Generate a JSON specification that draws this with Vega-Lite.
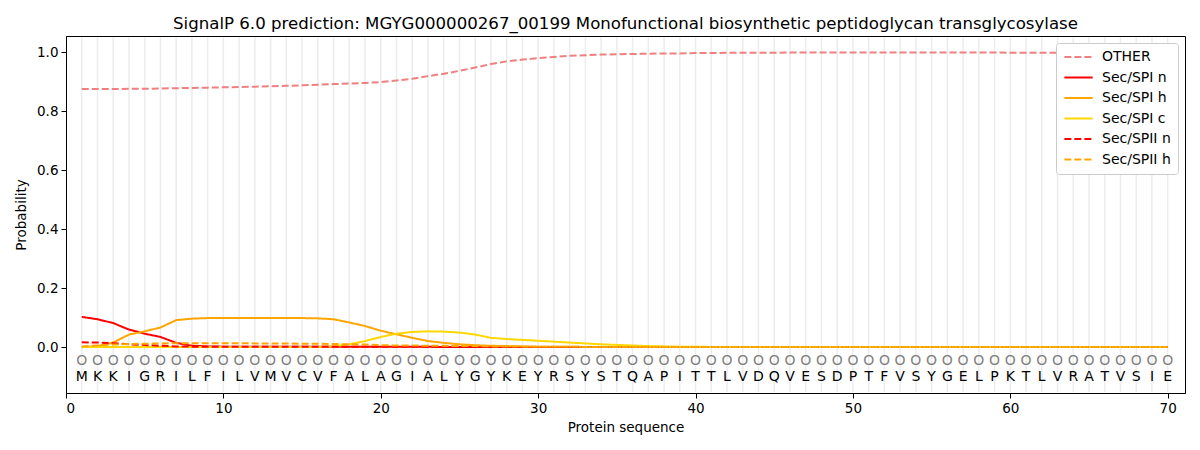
{
  "$schema": "https://vega.github.io/schema/vega-lite/v6.json",
  "width": 1119,
  "height": 357,
  "autosize": {"type": "none"},
  "padding": {"left": 66, "top": 36, "right": 15, "bottom": 57},
  "title": {"text": "SignalP 6.0 prediction: MGYG000000267_00199 Monofunctional biosynthetic peptidoglycan transglycosylase", "fontSize": 16.6, "fontWeight": "normal", "font": "DejaVu Sans", "anchor": "middle", "offset": 3, "color": "black"},
  "config": {
    "font": "DejaVu Sans",
    "view": {"stroke": "black", "strokeWidth": 1},
    "axis": {"domainColor": "black", "tickColor": "black", "labelColor": "black", "titleColor": "black", "labelFontSize": 13.5, "titleFontSize": 13.5, "titleFontWeight": "normal", "tickSize": 5, "grid": false, "labelFont": "DejaVu Sans", "titleFont": "DejaVu Sans"},
    "legend": {"labelFontSize": 14, "labelFont": "DejaVu Sans", "symbolStrokeWidth": 2, "symbolSize": 800, "symbolType": "stroke", "clipHeight": 14, "fillColor": "white", "strokeColor": "#cccccc", "cornerRadius": 3, "padding": 7, "rowPadding": 6.5, "offset": 7, "labelColor": "black", "labelOffset": 8}
  },
  "data": {"values": [
    {"pos":1,"aa":"M","OTHER":0.875,"Sec/SPI n":0.103,"Sec/SPI h":0.0,"Sec/SPI c":0.001,"Sec/SPII n":0.017,"Sec/SPII h":0.003},
    {"pos":2,"aa":"K","OTHER":0.875,"Sec/SPI n":0.095,"Sec/SPI h":0.004,"Sec/SPI c":0.001,"Sec/SPII n":0.016,"Sec/SPII h":0.006},
    {"pos":3,"aa":"K","OTHER":0.875,"Sec/SPI n":0.082,"Sec/SPI h":0.016,"Sec/SPI c":0.001,"Sec/SPII n":0.014,"Sec/SPII h":0.009},
    {"pos":4,"aa":"I","OTHER":0.876,"Sec/SPI n":0.060,"Sec/SPI h":0.043,"Sec/SPI c":0.001,"Sec/SPII n":0.010,"Sec/SPII h":0.011},
    {"pos":5,"aa":"G","OTHER":0.876,"Sec/SPI n":0.046,"Sec/SPI h":0.054,"Sec/SPI c":0.001,"Sec/SPII n":0.008,"Sec/SPII h":0.012},
    {"pos":6,"aa":"R","OTHER":0.877,"Sec/SPI n":0.035,"Sec/SPI h":0.067,"Sec/SPI c":0.001,"Sec/SPII n":0.005,"Sec/SPII h":0.013},
    {"pos":7,"aa":"I","OTHER":0.878,"Sec/SPI n":0.015,"Sec/SPI h":0.092,"Sec/SPI c":0.001,"Sec/SPII n":0.003,"Sec/SPII h":0.014},
    {"pos":8,"aa":"L","OTHER":0.879,"Sec/SPI n":0.005,"Sec/SPI h":0.097,"Sec/SPI c":0.001,"Sec/SPII n":0.002,"Sec/SPII h":0.014},
    {"pos":9,"aa":"F","OTHER":0.880,"Sec/SPI n":0.003,"Sec/SPI h":0.099,"Sec/SPI c":0.001,"Sec/SPII n":0.002,"Sec/SPII h":0.014},
    {"pos":10,"aa":"I","OTHER":0.881,"Sec/SPI n":0.002,"Sec/SPI h":0.099,"Sec/SPI c":0.001,"Sec/SPII n":0.002,"Sec/SPII h":0.014},
    {"pos":11,"aa":"L","OTHER":0.882,"Sec/SPI n":0.002,"Sec/SPI h":0.099,"Sec/SPI c":0.001,"Sec/SPII n":0.002,"Sec/SPII h":0.014},
    {"pos":12,"aa":"V","OTHER":0.883,"Sec/SPI n":0.002,"Sec/SPI h":0.099,"Sec/SPI c":0.001,"Sec/SPII n":0.002,"Sec/SPII h":0.013},
    {"pos":13,"aa":"M","OTHER":0.885,"Sec/SPI n":0.002,"Sec/SPI h":0.099,"Sec/SPI c":0.001,"Sec/SPII n":0.002,"Sec/SPII h":0.013},
    {"pos":14,"aa":"V","OTHER":0.886,"Sec/SPI n":0.002,"Sec/SPI h":0.099,"Sec/SPI c":0.001,"Sec/SPII n":0.002,"Sec/SPII h":0.013},
    {"pos":15,"aa":"C","OTHER":0.888,"Sec/SPI n":0.002,"Sec/SPI h":0.099,"Sec/SPI c":0.001,"Sec/SPII n":0.002,"Sec/SPII h":0.012},
    {"pos":16,"aa":"V","OTHER":0.890,"Sec/SPI n":0.002,"Sec/SPI h":0.098,"Sec/SPI c":0.001,"Sec/SPII n":0.002,"Sec/SPII h":0.012},
    {"pos":17,"aa":"F","OTHER":0.892,"Sec/SPI n":0.002,"Sec/SPI h":0.095,"Sec/SPI c":0.003,"Sec/SPII n":0.002,"Sec/SPII h":0.011},
    {"pos":18,"aa":"A","OTHER":0.894,"Sec/SPI n":0.002,"Sec/SPI h":0.084,"Sec/SPI c":0.010,"Sec/SPII n":0.002,"Sec/SPII h":0.010},
    {"pos":19,"aa":"L","OTHER":0.896,"Sec/SPI n":0.002,"Sec/SPI h":0.072,"Sec/SPI c":0.021,"Sec/SPII n":0.002,"Sec/SPII h":0.009},
    {"pos":20,"aa":"A","OTHER":0.899,"Sec/SPI n":0.002,"Sec/SPI h":0.056,"Sec/SPI c":0.035,"Sec/SPII n":0.002,"Sec/SPII h":0.007},
    {"pos":21,"aa":"G","OTHER":0.904,"Sec/SPI n":0.002,"Sec/SPI h":0.044,"Sec/SPI c":0.046,"Sec/SPII n":0.002,"Sec/SPII h":0.006},
    {"pos":22,"aa":"I","OTHER":0.910,"Sec/SPI n":0.002,"Sec/SPI h":0.032,"Sec/SPI c":0.052,"Sec/SPII n":0.002,"Sec/SPII h":0.006},
    {"pos":23,"aa":"A","OTHER":0.919,"Sec/SPI n":0.002,"Sec/SPI h":0.021,"Sec/SPI c":0.054,"Sec/SPII n":0.002,"Sec/SPII h":0.005},
    {"pos":24,"aa":"L","OTHER":0.927,"Sec/SPI n":0.001,"Sec/SPI h":0.015,"Sec/SPI c":0.053,"Sec/SPII n":0.001,"Sec/SPII h":0.005},
    {"pos":25,"aa":"Y","OTHER":0.937,"Sec/SPI n":0.001,"Sec/SPI h":0.010,"Sec/SPI c":0.050,"Sec/SPII n":0.001,"Sec/SPII h":0.004},
    {"pos":26,"aa":"G","OTHER":0.948,"Sec/SPI n":0.001,"Sec/SPI h":0.007,"Sec/SPI c":0.043,"Sec/SPII n":0.001,"Sec/SPII h":0.004},
    {"pos":27,"aa":"Y","OTHER":0.960,"Sec/SPI n":0.001,"Sec/SPI h":0.005,"Sec/SPI c":0.032,"Sec/SPII n":0.001,"Sec/SPII h":0.003},
    {"pos":28,"aa":"K","OTHER":0.969,"Sec/SPI n":0.001,"Sec/SPI h":0.004,"Sec/SPI c":0.028,"Sec/SPII n":0.001,"Sec/SPII h":0.003},
    {"pos":29,"aa":"E","OTHER":0.975,"Sec/SPI n":0.001,"Sec/SPI h":0.003,"Sec/SPI c":0.025,"Sec/SPII n":0.001,"Sec/SPII h":0.002},
    {"pos":30,"aa":"Y","OTHER":0.980,"Sec/SPI n":0.001,"Sec/SPI h":0.002,"Sec/SPI c":0.022,"Sec/SPII n":0.001,"Sec/SPII h":0.002},
    {"pos":31,"aa":"R","OTHER":0.984,"Sec/SPI n":0.001,"Sec/SPI h":0.002,"Sec/SPI c":0.019,"Sec/SPII n":0.001,"Sec/SPII h":0.002},
    {"pos":32,"aa":"S","OTHER":0.988,"Sec/SPI n":0.001,"Sec/SPI h":0.002,"Sec/SPI c":0.016,"Sec/SPII n":0.001,"Sec/SPII h":0.002},
    {"pos":33,"aa":"Y","OTHER":0.990,"Sec/SPI n":0.001,"Sec/SPI h":0.001,"Sec/SPI c":0.013,"Sec/SPII n":0.001,"Sec/SPII h":0.001},
    {"pos":34,"aa":"S","OTHER":0.992,"Sec/SPI n":0.001,"Sec/SPI h":0.001,"Sec/SPI c":0.010,"Sec/SPII n":0.001,"Sec/SPII h":0.001},
    {"pos":35,"aa":"T","OTHER":0.993,"Sec/SPI n":0.001,"Sec/SPI h":0.001,"Sec/SPI c":0.008,"Sec/SPII n":0.001,"Sec/SPII h":0.001},
    {"pos":36,"aa":"Q","OTHER":0.994,"Sec/SPI n":0.001,"Sec/SPI h":0.001,"Sec/SPI c":0.006,"Sec/SPII n":0.001,"Sec/SPII h":0.001},
    {"pos":37,"aa":"A","OTHER":0.995,"Sec/SPI n":0.001,"Sec/SPI h":0.001,"Sec/SPI c":0.004,"Sec/SPII n":0.001,"Sec/SPII h":0.001},
    {"pos":38,"aa":"P","OTHER":0.996,"Sec/SPI n":0.001,"Sec/SPI h":0.001,"Sec/SPI c":0.003,"Sec/SPII n":0.001,"Sec/SPII h":0.001},
    {"pos":39,"aa":"I","OTHER":0.996,"Sec/SPI n":0.001,"Sec/SPI h":0.001,"Sec/SPI c":0.002,"Sec/SPII n":0.001,"Sec/SPII h":0.001},
    {"pos":40,"aa":"T","OTHER":0.997,"Sec/SPI n":0.001,"Sec/SPI h":0.001,"Sec/SPI c":0.002,"Sec/SPII n":0.001,"Sec/SPII h":0.001},
    {"pos":41,"aa":"T","OTHER":0.997,"Sec/SPI n":0.001,"Sec/SPI h":0.001,"Sec/SPI c":0.001,"Sec/SPII n":0.001,"Sec/SPII h":0.001},
    {"pos":42,"aa":"L","OTHER":0.998,"Sec/SPI n":0.001,"Sec/SPI h":0.001,"Sec/SPI c":0.001,"Sec/SPII n":0.001,"Sec/SPII h":0.001},
    {"pos":43,"aa":"V","OTHER":0.998,"Sec/SPI n":0.001,"Sec/SPI h":0.001,"Sec/SPI c":0.001,"Sec/SPII n":0.001,"Sec/SPII h":0.001},
    {"pos":44,"aa":"D","OTHER":0.998,"Sec/SPI n":0.001,"Sec/SPI h":0.001,"Sec/SPI c":0.001,"Sec/SPII n":0.001,"Sec/SPII h":0.001},
    {"pos":45,"aa":"Q","OTHER":0.998,"Sec/SPI n":0.001,"Sec/SPI h":0.001,"Sec/SPI c":0.001,"Sec/SPII n":0.001,"Sec/SPII h":0.001},
    {"pos":46,"aa":"V","OTHER":0.999,"Sec/SPI n":0.001,"Sec/SPI h":0.001,"Sec/SPI c":0.001,"Sec/SPII n":0.001,"Sec/SPII h":0.001},
    {"pos":47,"aa":"E","OTHER":0.999,"Sec/SPI n":0.001,"Sec/SPI h":0.001,"Sec/SPI c":0.001,"Sec/SPII n":0.001,"Sec/SPII h":0.001},
    {"pos":48,"aa":"S","OTHER":0.999,"Sec/SPI n":0.001,"Sec/SPI h":0.001,"Sec/SPI c":0.001,"Sec/SPII n":0.001,"Sec/SPII h":0.001},
    {"pos":49,"aa":"D","OTHER":0.999,"Sec/SPI n":0.001,"Sec/SPI h":0.001,"Sec/SPI c":0.001,"Sec/SPII n":0.001,"Sec/SPII h":0.001},
    {"pos":50,"aa":"P","OTHER":0.999,"Sec/SPI n":0.001,"Sec/SPI h":0.001,"Sec/SPI c":0.001,"Sec/SPII n":0.001,"Sec/SPII h":0.001},
    {"pos":51,"aa":"T","OTHER":0.999,"Sec/SPI n":0.001,"Sec/SPI h":0.001,"Sec/SPI c":0.001,"Sec/SPII n":0.001,"Sec/SPII h":0.001},
    {"pos":52,"aa":"F","OTHER":0.999,"Sec/SPI n":0.001,"Sec/SPI h":0.001,"Sec/SPI c":0.001,"Sec/SPII n":0.001,"Sec/SPII h":0.001},
    {"pos":53,"aa":"V","OTHER":0.999,"Sec/SPI n":0.001,"Sec/SPI h":0.001,"Sec/SPI c":0.001,"Sec/SPII n":0.001,"Sec/SPII h":0.001},
    {"pos":54,"aa":"S","OTHER":0.999,"Sec/SPI n":0.001,"Sec/SPI h":0.001,"Sec/SPI c":0.001,"Sec/SPII n":0.001,"Sec/SPII h":0.001},
    {"pos":55,"aa":"Y","OTHER":0.999,"Sec/SPI n":0.001,"Sec/SPI h":0.001,"Sec/SPI c":0.001,"Sec/SPII n":0.001,"Sec/SPII h":0.001},
    {"pos":56,"aa":"G","OTHER":0.999,"Sec/SPI n":0.001,"Sec/SPI h":0.001,"Sec/SPI c":0.001,"Sec/SPII n":0.001,"Sec/SPII h":0.001},
    {"pos":57,"aa":"E","OTHER":0.999,"Sec/SPI n":0.001,"Sec/SPI h":0.001,"Sec/SPI c":0.001,"Sec/SPII n":0.001,"Sec/SPII h":0.001},
    {"pos":58,"aa":"L","OTHER":0.999,"Sec/SPI n":0.001,"Sec/SPI h":0.001,"Sec/SPI c":0.001,"Sec/SPII n":0.001,"Sec/SPII h":0.001},
    {"pos":59,"aa":"P","OTHER":0.999,"Sec/SPI n":0.001,"Sec/SPI h":0.001,"Sec/SPI c":0.001,"Sec/SPII n":0.001,"Sec/SPII h":0.001},
    {"pos":60,"aa":"K","OTHER":0.998,"Sec/SPI n":0.001,"Sec/SPI h":0.001,"Sec/SPI c":0.001,"Sec/SPII n":0.001,"Sec/SPII h":0.001},
    {"pos":61,"aa":"T","OTHER":0.998,"Sec/SPI n":0.001,"Sec/SPI h":0.001,"Sec/SPI c":0.001,"Sec/SPII n":0.001,"Sec/SPII h":0.001},
    {"pos":62,"aa":"L","OTHER":0.998,"Sec/SPI n":0.001,"Sec/SPI h":0.001,"Sec/SPI c":0.001,"Sec/SPII n":0.001,"Sec/SPII h":0.001},
    {"pos":63,"aa":"V","OTHER":0.998,"Sec/SPI n":0.001,"Sec/SPI h":0.001,"Sec/SPI c":0.001,"Sec/SPII n":0.001,"Sec/SPII h":0.001},
    {"pos":64,"aa":"R","OTHER":0.998,"Sec/SPI n":0.001,"Sec/SPI h":0.001,"Sec/SPI c":0.001,"Sec/SPII n":0.001,"Sec/SPII h":0.001},
    {"pos":65,"aa":"A","OTHER":0.997,"Sec/SPI n":0.001,"Sec/SPI h":0.001,"Sec/SPI c":0.001,"Sec/SPII n":0.001,"Sec/SPII h":0.001},
    {"pos":66,"aa":"T","OTHER":0.997,"Sec/SPI n":0.001,"Sec/SPI h":0.001,"Sec/SPI c":0.001,"Sec/SPII n":0.001,"Sec/SPII h":0.001},
    {"pos":67,"aa":"V","OTHER":0.997,"Sec/SPI n":0.001,"Sec/SPI h":0.001,"Sec/SPI c":0.001,"Sec/SPII n":0.001,"Sec/SPII h":0.001},
    {"pos":68,"aa":"S","OTHER":0.997,"Sec/SPI n":0.001,"Sec/SPI h":0.001,"Sec/SPI c":0.001,"Sec/SPII n":0.001,"Sec/SPII h":0.001},
    {"pos":69,"aa":"I","OTHER":0.997,"Sec/SPI n":0.001,"Sec/SPI h":0.001,"Sec/SPI c":0.001,"Sec/SPII n":0.001,"Sec/SPII h":0.001},
    {"pos":70,"aa":"E","OTHER":0.997,"Sec/SPI n":0.001,"Sec/SPI h":0.001,"Sec/SPI c":0.001,"Sec/SPII n":0.001,"Sec/SPII h":0.001}
  ]},
  "layer": [
    {
      "mark": {"type": "rule", "color": "#ececec", "strokeWidth": 1.5, "clip": true},
      "encoding": {
        "x": {"field": "pos", "type": "quantitative", "scale": {"domain": [0, 71.1], "nice": false, "zero": false}, "axis": {"values": [0,10,20,30,40,50,60,70], "title": "Protein sequence", "titlePadding": 6, "labelPadding": 3}},
        "y": {"datum": -0.151, "type": "quantitative"},
        "y2": {"datum": 1.051}
      }
    },
    {
      "mark": {"type": "text", "color": "#808080", "fontSize": 14, "baseline": "middle", "align": "center", "font": "DejaVu Sans"},
      "encoding": {
        "x": {"field": "pos", "type": "quantitative"},
        "y": {"datum": -0.045, "type": "quantitative"},
        "text": {"value": "O"}
      }
    },
    {
      "mark": {"type": "text", "color": "black", "fontSize": 14, "baseline": "middle", "align": "center", "font": "DejaVu Sans"},
      "encoding": {
        "x": {"field": "pos", "type": "quantitative"},
        "y": {"datum": -0.1, "type": "quantitative"},
        "text": {"field": "aa"}
      }
    },
    {
      "transform": [{"fold": ["OTHER", "Sec/SPI n", "Sec/SPI h", "Sec/SPI c", "Sec/SPII n", "Sec/SPII h"], "as": ["cls", "prob"]}],
      "mark": {"type": "line", "strokeWidth": 2},
      "encoding": {
        "x": {"field": "pos", "type": "quantitative"},
        "y": {"field": "prob", "type": "quantitative", "scale": {"domain": [-0.155, 1.055], "nice": false, "zero": false}, "axis": {"values": [0, 0.2, 0.4, 0.6, 0.8, 1.0], "format": ".1f", "title": "Probability", "titlePadding": 8, "labelPadding": 3}},
        "color": {"field": "cls", "type": "nominal", "title": null, "scale": {"domain": ["OTHER", "Sec/SPI n", "Sec/SPI h", "Sec/SPI c", "Sec/SPII n", "Sec/SPII h"], "range": ["#F08080", "#FF0000", "#FFA500", "#FFD700", "#FF0000", "#FFA500"]}, "legend": {"orient": "top-right"}},
        "strokeDash": {"field": "cls", "type": "nominal", "title": null, "scale": {"domain": ["OTHER", "Sec/SPI n", "Sec/SPI h", "Sec/SPI c", "Sec/SPII n", "Sec/SPII h"], "range": [[7, 3], [1, 0], [1, 0], [1, 0], [7, 3], [7, 3]]}, "legend": {"orient": "top-right"}}
      }
    }
  ]
}
